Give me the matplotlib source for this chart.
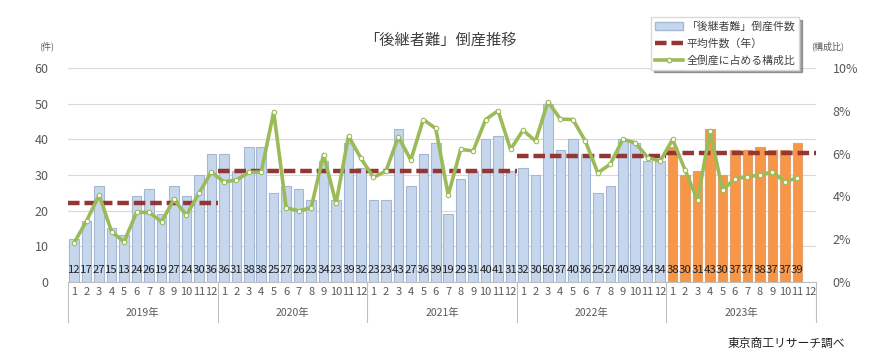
import numpy as np
import matplotlib
matplotlib.use('Agg')
from matplotlib import pyplot as plt
from matplotlib.lines import Line2D
from matplotlib.patches import Patch
import matplotlib.transforms as mtrans

plt.rcParams['font.family'] = ['Noto Sans CJK JP', 'DejaVu Sans']

years = ['2019年', '2020年', '2021年', '2022年', '2023年']
months = [str(m) for m in range(1, 13)]

counts = [12, 17, 27, 15, 13, 24, 26, 19, 27, 24, 30, 36,
          36, 31, 38, 38, 25, 27, 26, 23, 34, 23, 39, 32,
          23, 23, 43, 27, 36, 39, 19, 29, 31, 40, 41, 31,
          32, 30, 50, 37, 40, 36, 25, 27, 40, 39, 34, 34,
          38, 30, 31, 43, 30, 37, 37, 38, 37, 37, 39]

ratio = [1.83, 2.86, 4.06, 2.34, 1.87, 3.25, 3.25, 2.81, 3.86, 3.11, 4.14, 5.14,
         4.68, 4.76, 5.12, 5.14, 7.96, 3.46, 3.32, 3.46, 5.96, 3.67, 6.82, 5.78,
         4.89, 5.18, 6.79, 5.70, 7.60, 7.18, 4.06, 6.20, 6.13, 7.60, 8.01, 6.20,
         7.10, 6.59, 8.43, 7.62, 7.60, 6.59, 5.10, 5.51, 6.67, 6.51, 5.82, 5.65,
         6.67, 5.23, 3.82, 7.07, 4.29, 4.82, 4.92, 5.00, 5.15, 4.68, 4.87]

year_avg = [22.0, 31.0, 31.0, 35.3, 36.1]

blue = '#C6D6EC'
blue_edge = '#A5B8D3'
orange = '#F79646'
orange_edge = '#E0A070'
green = '#9BBB59'
darkred = '#943634'
txt = '#595959'

fig = plt.figure(figsize=(8.72, 3.61), dpi=100)
ax = fig.add_axes([68/872, 1-281.7/361, (816-68)/872, (281.7-68.3)/361])

x = np.arange(len(counts))
colors = [blue if i < 48 else orange for i in x]
edges = [blue_edge if i < 48 else orange_edge for i in x]
ax.bar(x, counts, width=0.76, color=colors, edgecolor=edges, linewidth=0.8, zorder=2)

for i, c in enumerate(counts):
    ax.text(i, 3.2, str(c), ha='center', va='center', fontsize=8.2, color='#222222', zorder=5)

for k, a in enumerate(year_avg):
    ax.plot([12*k - 0.5, 12*k + 11.5], [a, a], color=darkred, lw=3.2,
            dashes=(2.6, 1.1), zorder=3, solid_capstyle='butt')

ax.set_xlim(-0.5, 59.5)
ax.set_ylim(0, 60)
ax.set_yticks(range(0, 61, 10))
ax.tick_params(axis='y', length=0, labelsize=9, colors=txt, pad=14)
ax.grid(axis='y', color='#D9D9D9', lw=0.8, zorder=0)
ax.set_axisbelow(True)
for s in ['top', 'right', 'left']:
    ax.spines[s].set_visible(False)
ax.spines['bottom'].set_color('#BFBFBF')

ax.set_xticks(x.tolist() + [59])
ax.set_xticklabels(months * 5)
ax.tick_params(axis='x', length=0, labelsize=8, colors=txt, pad=4)

# year row with separators
tr = mtrans.blended_transform_factory(ax.transData, ax.transAxes)
for k in range(6):
    ax.plot([12*k - 0.5, 12*k - 0.5], [0, -0.19], color='#BFBFBF', lw=0.8,
            transform=tr, clip_on=False)
for k, y in enumerate(years):
    ax.text(12*k + 5.5, -0.145, y, transform=tr, ha='center', va='center',
            fontsize=7.5, color=txt)

ax2 = ax.twinx()
ax2.plot(x, ratio, color=green, lw=2.6, marker='o', markersize=3.2,
         markerfacecolor='white', markeredgecolor=green, markeredgewidth=0.8, zorder=4)
ax2.set_ylim(0, 10)
ax2.set_yticks(range(0, 11, 2))
ax2.set_yticklabels([f'{v}%' for v in range(0, 11, 2)])
ax2.tick_params(axis='y', length=0, labelsize=9, colors=txt, pad=12)
for s in ['top', 'right', 'left', 'bottom']:
    ax2.spines[s].set_visible(False)

fig.text(440/872, 1-40/361, '「後継者難」倒産推移', ha='center', va='center',
         fontsize=11, color='#404040')
fig.text(47/872, 1-46/361, '(件)', ha='center', va='center', fontsize=6.5, color=txt)
fig.text(828/872, 1-46/361, '(構成比)', ha='center', va='center', fontsize=6.5, color=txt)
fig.text(845/872, 1-343/361, '東京商工リサーチ調べ', ha='right', va='center',
         fontsize=8.5, color='#222222')

handles = [Patch(facecolor=blue, edgecolor=blue_edge),
           Line2D([], [], color=darkred, lw=3.2, dashes=(2.6, 1.1)),
           Line2D([], [], color=green, lw=2.6, marker='o', markersize=3.2,
                  markerfacecolor='white', markeredgecolor=green)]
labels = ['「後継者難」倒産件数', '平均件数（年）', '全倒産に占める構成比']
leg = fig.legend(handles, labels, loc='upper left', bbox_to_anchor=(646/872, 1-12/361),
                 fontsize=7.8, frameon=True, fancybox=False, shadow=True,
                 handlelength=2.6, labelspacing=0.6, borderpad=0.35, handletextpad=0.3)
leg.get_frame().set_edgecolor('#D9D9D9')
for t in leg.get_texts():
    t.set_color('#404040')

fig.savefig('out.png', dpi=100)
